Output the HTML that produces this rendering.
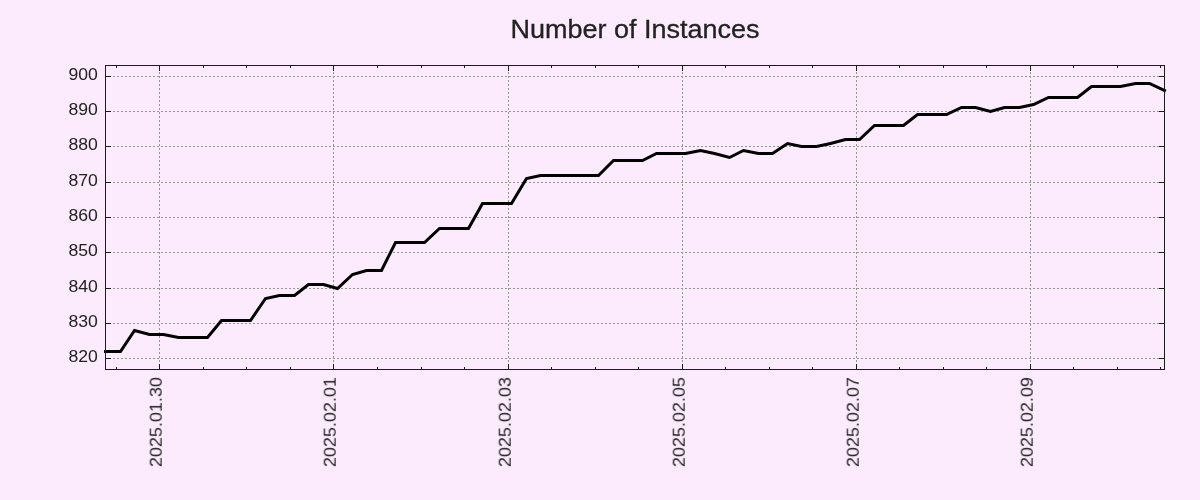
<!DOCTYPE html>
<html><head><meta charset="utf-8"><title>Number of Instances</title>
<style>
html,body{margin:0;padding:0;background:#fcebfd;}
body{width:1200px;height:500px;overflow:hidden;}
svg{display:block;}
text{font-family:"Liberation Sans",sans-serif;fill:#222222;}
.t{stroke:#222222;stroke-width:0.3px;}
</style></head><body>
<svg width="1200" height="500" viewBox="0 0 1200 500">
<rect x="0" y="0" width="1200" height="500" fill="#fcebfd"/>

<g stroke="#949494" stroke-width="1" stroke-dasharray="2 2" fill="none">
<line x1="113" y1="358.5" x2="1159.0" y2="358.5"/>
<line x1="113" y1="323.5" x2="1159.0" y2="323.5"/>
<line x1="113" y1="288.5" x2="1159.0" y2="288.5"/>
<line x1="113" y1="252.5" x2="1159.0" y2="252.5"/>
<line x1="113" y1="217.5" x2="1159.0" y2="217.5"/>
<line x1="113" y1="182.5" x2="1159.0" y2="182.5"/>
<line x1="113" y1="146.5" x2="1159.0" y2="146.5"/>
<line x1="113" y1="111.5" x2="1159.0" y2="111.5"/>
<line x1="113" y1="76.5" x2="1159.0" y2="76.5"/>
<line x1="159.50" y1="72" x2="159.50" y2="364.0"/>
<line x1="333.50" y1="72" x2="333.50" y2="364.0"/>
<line x1="508.50" y1="72" x2="508.50" y2="364.0"/>
<line x1="682.50" y1="72" x2="682.50" y2="364.0"/>
<line x1="856.50" y1="72" x2="856.50" y2="364.0"/>
<line x1="1030.50" y1="72" x2="1030.50" y2="364.0"/>
</g>
<polyline points="105.5,351.5 120.5,351.5 134.5,330.5 149.5,334.5 163.5,334.5 178.5,337.5 192.5,337.5 207.5,337.5 221.5,320.5 236.5,320.5 250.5,320.5 265.5,298.5 279.5,295.5 294.5,295.5 308.5,284.5 323.5,284.5 337.5,288.5 352.5,274.5 366.5,270.5 381.5,270.5 395.5,242.5 410.5,242.5 424.5,242.5 439.5,228.5 453.5,228.5 468.5,228.5 482.5,203.5 497.5,203.5 511.5,203.5 526.5,178.5 540.5,175.5 555.5,175.5 569.5,175.5 584.5,175.5 598.5,175.5 613.5,160.5 627.5,160.5 642.5,160.5 656.5,153.5 671.5,153.5 685.5,153.5 700.5,150.5 714.5,153.5 729.5,157.5 743.5,150.5 758.5,153.5 772.5,153.5 787.5,143.5 801.5,146.5 816.5,146.5 830.5,143.5 845.5,139.5 859.5,139.5 874.5,125.5 888.5,125.5 903.5,125.5 917.5,114.5 932.5,114.5 946.5,114.5 961.5,107.5 975.5,107.5 990.5,111.5 1004.5,107.5 1019.5,107.5 1033.5,104.5 1048.5,97.5 1062.5,97.5 1077.5,97.5 1091.5,86.5 1106.5,86.5 1120.5,86.5 1135.5,83.5 1149.5,83.5 1164.5,90.5" fill="none" stroke="#000" stroke-width="3" stroke-linecap="square" stroke-linejoin="miter"/>
<rect x="105.5" y="65.5" width="1059.0" height="304.0" fill="none" stroke="#1c1c1c" stroke-width="1"/>
<g stroke="#1c1c1c" stroke-width="1">
<line x1="105.5" y1="358.5" x2="111.0" y2="358.5"/><line x1="1164.5" y1="358.5" x2="1159.0" y2="358.5"/>
<line x1="105.5" y1="323.5" x2="111.0" y2="323.5"/><line x1="1164.5" y1="323.5" x2="1159.0" y2="323.5"/>
<line x1="105.5" y1="288.5" x2="111.0" y2="288.5"/><line x1="1164.5" y1="288.5" x2="1159.0" y2="288.5"/>
<line x1="105.5" y1="252.5" x2="111.0" y2="252.5"/><line x1="1164.5" y1="252.5" x2="1159.0" y2="252.5"/>
<line x1="105.5" y1="217.5" x2="111.0" y2="217.5"/><line x1="1164.5" y1="217.5" x2="1159.0" y2="217.5"/>
<line x1="105.5" y1="182.5" x2="111.0" y2="182.5"/><line x1="1164.5" y1="182.5" x2="1159.0" y2="182.5"/>
<line x1="105.5" y1="146.5" x2="111.0" y2="146.5"/><line x1="1164.5" y1="146.5" x2="1159.0" y2="146.5"/>
<line x1="105.5" y1="111.5" x2="111.0" y2="111.5"/><line x1="1164.5" y1="111.5" x2="1159.0" y2="111.5"/>
<line x1="105.5" y1="76.5" x2="111.0" y2="76.5"/><line x1="1164.5" y1="76.5" x2="1159.0" y2="76.5"/>
<line x1="116.50" y1="65.5" x2="116.50" y2="68.0"/><line x1="116.50" y1="369.5" x2="116.50" y2="367.0"/>
<line x1="159.50" y1="65.5" x2="159.50" y2="71.0"/><line x1="159.50" y1="369.5" x2="159.50" y2="364.0"/>
<line x1="203.50" y1="65.5" x2="203.50" y2="68.0"/><line x1="203.50" y1="369.5" x2="203.50" y2="367.0"/>
<line x1="246.50" y1="65.5" x2="246.50" y2="68.0"/><line x1="246.50" y1="369.5" x2="246.50" y2="367.0"/>
<line x1="290.50" y1="65.5" x2="290.50" y2="68.0"/><line x1="290.50" y1="369.5" x2="290.50" y2="367.0"/>
<line x1="333.50" y1="65.5" x2="333.50" y2="71.0"/><line x1="333.50" y1="369.5" x2="333.50" y2="364.0"/>
<line x1="377.50" y1="65.5" x2="377.50" y2="68.0"/><line x1="377.50" y1="369.5" x2="377.50" y2="367.0"/>
<line x1="421.50" y1="65.5" x2="421.50" y2="68.0"/><line x1="421.50" y1="369.5" x2="421.50" y2="367.0"/>
<line x1="464.50" y1="65.5" x2="464.50" y2="68.0"/><line x1="464.50" y1="369.5" x2="464.50" y2="367.0"/>
<line x1="508.50" y1="65.5" x2="508.50" y2="71.0"/><line x1="508.50" y1="369.5" x2="508.50" y2="364.0"/>
<line x1="551.50" y1="65.5" x2="551.50" y2="68.0"/><line x1="551.50" y1="369.5" x2="551.50" y2="367.0"/>
<line x1="595.50" y1="65.5" x2="595.50" y2="68.0"/><line x1="595.50" y1="369.5" x2="595.50" y2="367.0"/>
<line x1="638.50" y1="65.5" x2="638.50" y2="68.0"/><line x1="638.50" y1="369.5" x2="638.50" y2="367.0"/>
<line x1="682.50" y1="65.5" x2="682.50" y2="71.0"/><line x1="682.50" y1="369.5" x2="682.50" y2="364.0"/>
<line x1="725.50" y1="65.5" x2="725.50" y2="68.0"/><line x1="725.50" y1="369.5" x2="725.50" y2="367.0"/>
<line x1="769.50" y1="65.5" x2="769.50" y2="68.0"/><line x1="769.50" y1="369.5" x2="769.50" y2="367.0"/>
<line x1="812.50" y1="65.5" x2="812.50" y2="68.0"/><line x1="812.50" y1="369.5" x2="812.50" y2="367.0"/>
<line x1="856.50" y1="65.5" x2="856.50" y2="71.0"/><line x1="856.50" y1="369.5" x2="856.50" y2="364.0"/>
<line x1="899.50" y1="65.5" x2="899.50" y2="68.0"/><line x1="899.50" y1="369.5" x2="899.50" y2="367.0"/>
<line x1="943.50" y1="65.5" x2="943.50" y2="68.0"/><line x1="943.50" y1="369.5" x2="943.50" y2="367.0"/>
<line x1="986.50" y1="65.5" x2="986.50" y2="68.0"/><line x1="986.50" y1="369.5" x2="986.50" y2="367.0"/>
<line x1="1030.50" y1="65.5" x2="1030.50" y2="71.0"/><line x1="1030.50" y1="369.5" x2="1030.50" y2="364.0"/>
<line x1="1073.50" y1="65.5" x2="1073.50" y2="68.0"/><line x1="1073.50" y1="369.5" x2="1073.50" y2="367.0"/>
<line x1="1117.50" y1="65.5" x2="1117.50" y2="68.0"/><line x1="1117.50" y1="369.5" x2="1117.50" y2="367.0"/>
<line x1="1160.50" y1="65.5" x2="1160.50" y2="68.0"/><line x1="1160.50" y1="369.5" x2="1160.50" y2="367.0"/>
</g>
<g opacity="0.999">
<text class="t" x="635" y="37.8" font-size="24.9" text-anchor="middle" textLength="249" lengthAdjust="spacingAndGlyphs">Number of Instances</text>
<text x="97.8" y="362.10" font-size="16.7" text-anchor="end" textLength="29.4" lengthAdjust="spacingAndGlyphs">820</text>
<text x="97.8" y="327.10" font-size="16.7" text-anchor="end" textLength="29.4" lengthAdjust="spacingAndGlyphs">830</text>
<text x="97.8" y="292.10" font-size="16.7" text-anchor="end" textLength="29.4" lengthAdjust="spacingAndGlyphs">840</text>
<text x="97.8" y="256.10" font-size="16.7" text-anchor="end" textLength="29.4" lengthAdjust="spacingAndGlyphs">850</text>
<text x="97.8" y="221.10" font-size="16.7" text-anchor="end" textLength="29.4" lengthAdjust="spacingAndGlyphs">860</text>
<text x="97.8" y="186.10" font-size="16.7" text-anchor="end" textLength="29.4" lengthAdjust="spacingAndGlyphs">870</text>
<text x="97.8" y="150.10" font-size="16.7" text-anchor="end" textLength="29.4" lengthAdjust="spacingAndGlyphs">880</text>
<text x="97.8" y="115.10" font-size="16.7" text-anchor="end" textLength="29.4" lengthAdjust="spacingAndGlyphs">890</text>
<text x="97.8" y="80.10" font-size="16.7" text-anchor="end" textLength="29.4" lengthAdjust="spacingAndGlyphs">900</text>
<text transform="translate(161.70,467.1) rotate(-90)" font-size="16.4" text-anchor="start" textLength="90" lengthAdjust="spacingAndGlyphs">2025.01.30</text>
<text transform="translate(335.70,467.1) rotate(-90)" font-size="16.4" text-anchor="start" textLength="90" lengthAdjust="spacingAndGlyphs">2025.02.01</text>
<text transform="translate(510.70,467.1) rotate(-90)" font-size="16.4" text-anchor="start" textLength="90" lengthAdjust="spacingAndGlyphs">2025.02.03</text>
<text transform="translate(684.70,467.1) rotate(-90)" font-size="16.4" text-anchor="start" textLength="90" lengthAdjust="spacingAndGlyphs">2025.02.05</text>
<text transform="translate(858.70,467.1) rotate(-90)" font-size="16.4" text-anchor="start" textLength="90" lengthAdjust="spacingAndGlyphs">2025.02.07</text>
<text transform="translate(1032.70,467.1) rotate(-90)" font-size="16.4" text-anchor="start" textLength="90" lengthAdjust="spacingAndGlyphs">2025.02.09</text>
</g>
</svg>
</body></html>
